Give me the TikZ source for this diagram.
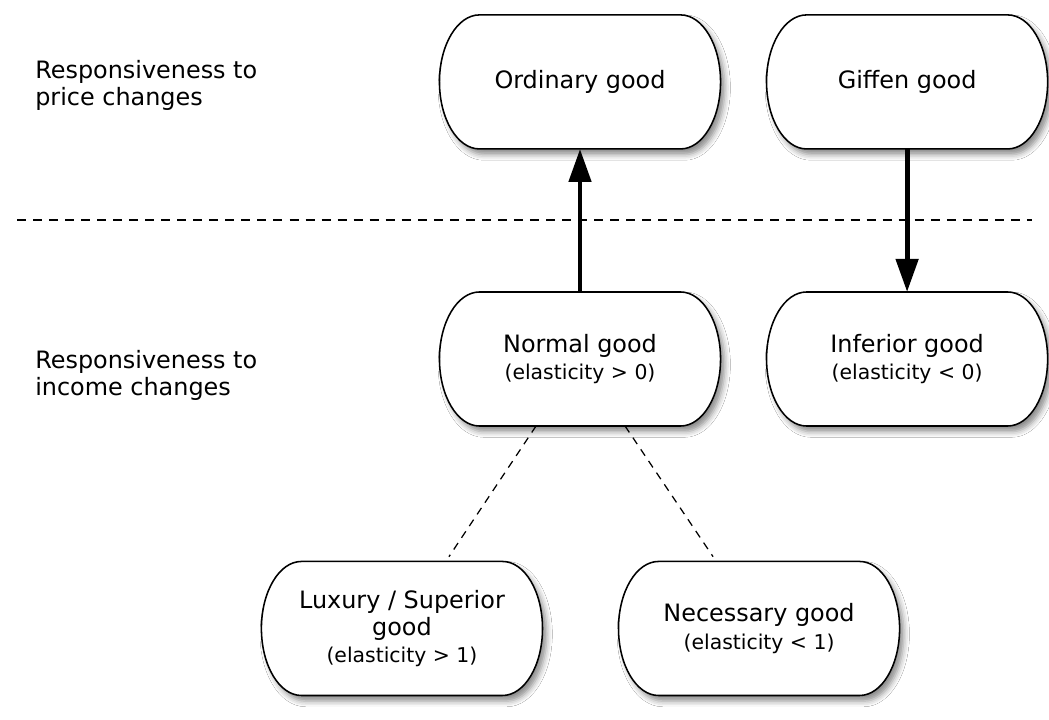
\documentclass[tikz,border=0pt]{standalone}
\usepackage{fontspec}
\setmainfont{DejaVu Sans}
\usetikzlibrary{arrows.meta, shadows.blur, backgrounds}
\newcommand{\boxfont}{\fontsize{17pt}{19.5pt}\selectfont}
\newcommand{\elastfont}{\fontsize{14.5pt}{19.5pt}\selectfont}
\tikzstyle{pill} = [rectangle, minimum width=7.025cm, minimum height=3.35cm, inner sep=0pt, outer sep=0pt, align=center, font=\boxfont]
\tikzstyle{pill_edge} = [draw=black, line width=1.1pt, fill=white, blur shadow={shadow xshift=3pt, shadow yshift=-4pt, shadow blur radius=4pt, shadow opacity=45}]
\tikzstyle{arrow} = [line width=3.5pt, -{Triangle[width=15.6pt, length=23.5pt]}]
\tikzstyle{divider} = [line width=1pt, dash pattern=on 6.4pt off 5pt]
\tikzstyle{branch} = [line width=0.9pt, dash pattern=on 5.5pt off 4.5pt]
\tikzstyle{side_text} = [anchor=north west, align=left, inner sep=0pt, font=\boxfont]
\newcommand{\pilledge}[1]{%
  \draw[pill_edge] ([xshift=1cm]#1.north west) -- ([xshift=-1cm]#1.north east)
    arc[start angle=90, end angle=-90, x radius=1cm, y radius=1.675cm]
    -- ([xshift=1cm]#1.south west)
    arc[start angle=270, end angle=90, x radius=1cm, y radius=1.675cm] -- cycle;}

\begin{document}
\begin{tikzpicture}[x=0.025cm, y=-0.025cm, node distance=6.925cm]
		\useasboundingbox (0,0) rectangle (1049,720);
		\node (normal_good) [pill] at (580,359) {Normal good\\{\elastfont (elasticity > 0)}};
		\node (ordinary_good) [pill, above of=normal_good] {Ordinary good};
		\node (inferior_good) [pill, right of=normal_good, xshift=1.25cm] {Inferior good\\{\elastfont (elasticity < 0)}};
		\node (giffen_good) [pill, above of=inferior_good] {Giffen good};
		\node (luxury_good) [pill, below of=normal_good, xshift=-4.45cm, yshift=0.19cm] {Luxury / Superior\\good\\{\elastfont (elasticity > 1)}};
		\node (necessary_good) [pill, below of=normal_good, xshift=4.475cm, yshift=0.19cm] {Necessary good\\{\elastfont (elasticity < 1)}};
		\node (price_text) [side_text] at (35,60) {Responsiveness to\\price changes};
		\node (income_text) [side_text] at (35,350) {Responsiveness to\\income changes};
		\begin{scope}[on background layer]
			\fill [white] (0,0) rectangle (1049,720);
			\pilledge{ordinary_good}
			\pilledge{giffen_good}
			\pilledge{normal_good}
			\pilledge{inferior_good}
			\pilledge{luxury_good}
			\pilledge{necessary_good}
		\end{scope}
		\coordinate (divider_left) at (17,220);
		\coordinate (divider_right) at (1032,220);
		\draw [divider] (divider_left) -- (divider_right);
		\draw [arrow] (normal_good) -- (ordinary_good);
		\draw [arrow] (giffen_good) -- (inferior_good);
		\draw [branch] ([xshift=-1.1cm]normal_good.south) -- ([xshift=1.175cm, yshift=0.12cm]luxury_good.north);
		\draw [branch] ([xshift=1.125cm]normal_good.south) -- ([xshift=-1.15cm, yshift=0.12cm]necessary_good.north);
\end{tikzpicture}
\end{document}
